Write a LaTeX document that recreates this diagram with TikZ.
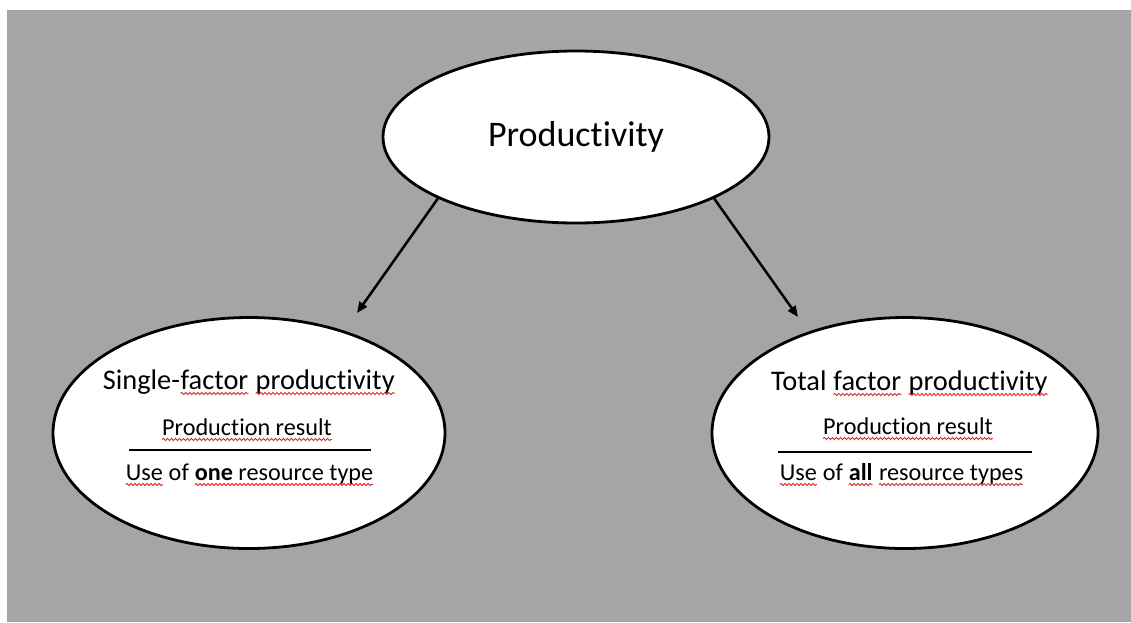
\documentclass[tikz,border=0pt]{standalone}
\usepackage{fontspec}
\setmainfont{Carlito}[RawFeature={-liga;-clig;-dlig}]
\setmainfont{Carlito}[Ligatures={NoCommon,NoRare,NoContextual}]
\usetikzlibrary{shapes.geometric,arrows.meta,decorations.pathmorphing}
\definecolor{bggray}{HTML}{A5A5A5}
\definecolor{wavered}{HTML}{E02828}
\newcommand\redwave[1]{\tikz[baseline=(w.base)]{\node[inner sep=0pt,outer sep=0pt] (w) {#1};\draw[wavered, line width=0.9pt, decorate, decoration={snake, amplitude=1.1pt, segment length=4pt}] ([yshift=-4.5pt]w.base west) -- ([yshift=-4.5pt]w.base east);}}
\begin{document}
\begin{tikzpicture}[x=1pt,y=-1pt,
  ell/.style={ellipse, draw=black, line width=2.8pt, fill=white, inner sep=0pt},
  arr/.style={line width=2.5pt, -{Triangle[length=11pt,width=9pt]}},
  lbl/.style={inner sep=0pt, anchor=base, text=black},
  titlef/.style={font=\fontsize{28.4}{34}\selectfont},
  bodyf/.style={font=\fontsize{24.2}{29}\selectfont},
  fracrule/.style={line width=1.4pt}]
\useasboundingbox (0,0) rectangle (1131,622);
\fill[bggray] (7,10) rectangle (1131,622);
% top
\node[ell, minimum width=386pt, minimum height=172pt] (top) at (576,137) {\fontsize{36}{43}\selectfont Productivity};
% bottom ellipses
\node[ell, minimum width=392pt, minimum height=231pt] (left) at (249,433) {};
\node[ell, minimum width=386pt, minimum height=231pt] (right) at (905,433) {};
% left texts
\node[lbl, titlef] (ltitle) at (249,389) {Single-\redwave{factor} \redwave{productivity}};
\node[lbl, bodyf] (lnum) at (247,435) {\redwave{Production result}};
\draw[fracrule] (129,450) -- (371,450);
\node[lbl, bodyf] (lden) at (249.5,480) {\redwave{Use} of \redwave{\textbf{one} resource type}};
% right texts
\node[lbl, titlef] (rtitle) at (909.5,390) {Total \redwave{factor} \redwave{productivity}};
\node[lbl, bodyf] (rnum) at (908,434) {\redwave{Production result}};
\draw[fracrule] (778,452) -- (1032,452);
\node[lbl, bodyf] (rden) at (901.5,480) {\redwave{Use} of \redwave{\textbf{all}} \redwave{resource types}};
% arrows
\coordinate (ltip) at (357,313);
\coordinate (rtip) at (798,317);
\draw[arr] (top.204) -- (ltip);
\draw[arr] (top.336) -- (rtip);
\end{tikzpicture}
\end{document}
